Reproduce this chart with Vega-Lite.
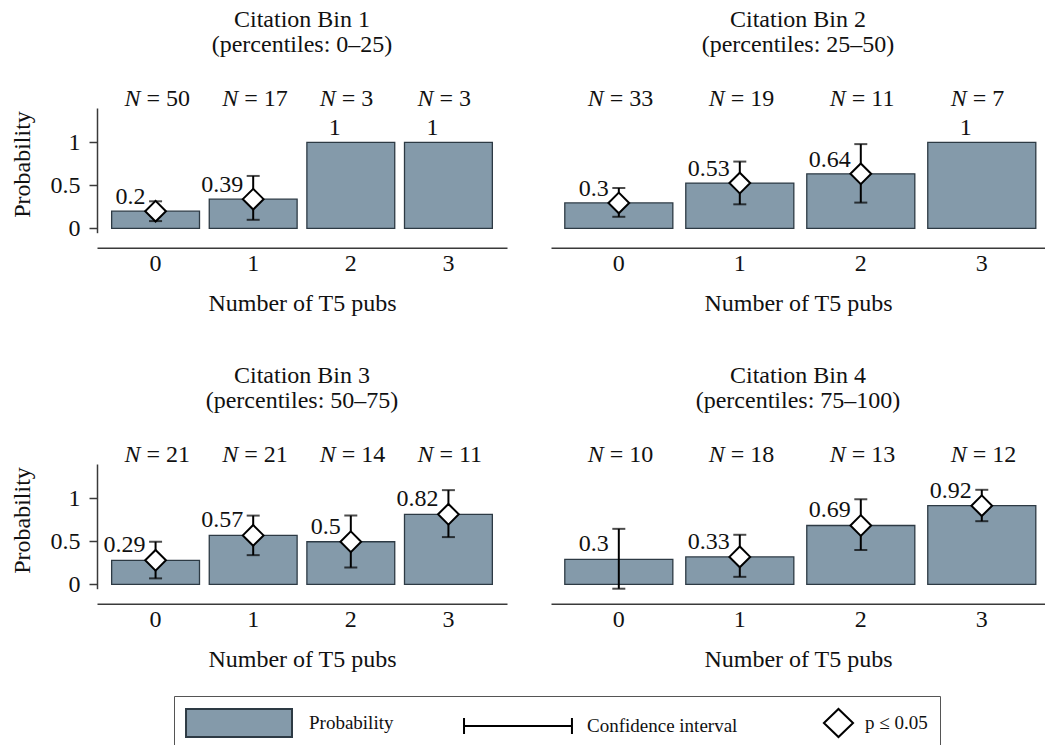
{
  "$schema": "https://vega.github.io/schema/vega-lite/v6.json",
  "padding": {"left": 10, "top": 8, "right": 0, "bottom": 0},
  "background": "white",
  "config": {
    "font": "'Liberation Serif', 'Times New Roman', serif",
    "view": {"stroke": null},
    "title": {"font": "'Liberation Serif', 'Times New Roman', serif", "fontSize": 24, "fontWeight": "normal", "color": "#111", "anchor": "middle", "frame": "group", "lineHeight": 25, "offset": 30},
    "text": {"font": "'Liberation Serif', 'Times New Roman', serif"},
    "axis": {"labelFont": "'Liberation Serif', 'Times New Roman', serif", "titleFont": "'Liberation Serif', 'Times New Roman', serif", "labelFontSize": 24, "titleFontSize": 24, "titleFontWeight": "normal", "labelColor": "#111", "titleColor": "#111", "grid": false, "domainColor": "#3a3a3a", "domainWidth": 1.5, "tickColor": "#3a3a3a", "tickWidth": 1.5},
    "legend": {"orient": "none", "legendX": 77, "legendY": 588, "direction": "horizontal", "columns": 3, "gridAlign": "all", "labelFont": "'Liberation Serif', 'Times New Roman', serif", "labelFontSize": 19, "labelColor": "#111", "symbolSize": 784, "symbolStrokeColor": "black", "symbolStrokeWidth": 2, "symbolOpacity": 1, "labelOffset": 93, "columnPadding": 0, "padding": 12, "strokeColor": "#555", "labelLimit": 300}
  },
  "datasets": {
    "d": [
      {"bin": 1, "pubs": 0, "nlab": "= 50", "prob": 0.2, "lo": 0.085, "hi": 0.315, "sig": true, "label": "0.2"},
      {"bin": 1, "pubs": 1, "nlab": "= 17", "prob": 0.34, "lo": 0.1, "hi": 0.61, "sig": true, "label": "0.39"},
      {"bin": 1, "pubs": 2, "nlab": "= 3", "prob": 1.0, "lo": null, "hi": null, "sig": false, "label": "1"},
      {"bin": 1, "pubs": 3, "nlab": "= 3", "prob": 1.0, "lo": null, "hi": null, "sig": false, "label": "1"},
      {"bin": 2, "pubs": 0, "nlab": "= 33", "prob": 0.296, "lo": 0.135, "hi": 0.47, "sig": true, "label": "0.3"},
      {"bin": 2, "pubs": 1, "nlab": "= 19", "prob": 0.527, "lo": 0.28, "hi": 0.777, "sig": true, "label": "0.53"},
      {"bin": 2, "pubs": 2, "nlab": "= 11", "prob": 0.635, "lo": 0.3, "hi": 0.98, "sig": true, "label": "0.64"},
      {"bin": 2, "pubs": 3, "nlab": "= 7", "prob": 1.0, "lo": null, "hi": null, "sig": false, "label": "1"},
      {"bin": 3, "pubs": 0, "nlab": "= 21", "prob": 0.28, "lo": 0.07, "hi": 0.496, "sig": true, "label": "0.29"},
      {"bin": 3, "pubs": 1, "nlab": "= 21", "prob": 0.57, "lo": 0.34, "hi": 0.8, "sig": true, "label": "0.57"},
      {"bin": 3, "pubs": 2, "nlab": "= 14", "prob": 0.496, "lo": 0.196, "hi": 0.8, "sig": true, "label": "0.5"},
      {"bin": 3, "pubs": 3, "nlab": "= 11", "prob": 0.815, "lo": 0.55, "hi": 1.096, "sig": true, "label": "0.82"},
      {"bin": 4, "pubs": 0, "nlab": "= 10", "prob": 0.29, "lo": -0.05, "hi": 0.646, "sig": false, "label": "0.3"},
      {"bin": 4, "pubs": 1, "nlab": "= 18", "prob": 0.32, "lo": 0.088, "hi": 0.577, "sig": true, "label": "0.33"},
      {"bin": 4, "pubs": 2, "nlab": "= 13", "prob": 0.685, "lo": 0.4, "hi": 0.99, "sig": true, "label": "0.69"},
      {"bin": 4, "pubs": 3, "nlab": "= 12", "prob": 0.915, "lo": 0.735, "hi": 1.1, "sig": true, "label": "0.92"}
    ]
  },
  "spacing": 48,
  "vconcat": [
    {
      "spacing": 44,
      "hconcat": [
        {
          "width": 410, "height": 124.7,
          "title": {"text": ["Citation Bin 1", "(percentiles: 0–25)"]},
          "data": {"name": "d"},
          "transform": [{"filter": "datum.bin == 1"}],
          "encoding": {"x": {"field": "pubs", "type": "ordinal", "scale": {"paddingInner": 0.1, "paddingOuter": 0.15}, "axis": {"title": "Number of T5 pubs", "labelAngle": 0, "ticks": false, "tickSize": 0, "offset": 15, "labelPadding": 4, "titlePadding": 16}}},
          "layer": [
            {"mark": {"type": "bar", "fill": "#849aaa", "stroke": "#2d3a44", "strokeWidth": 1.3}, "encoding": {"y": {"field": "prob", "type": "quantitative", "scale": {"domain": [-0.05, 1.4], "nice": false, "zero": false}, "axis": {"title": "Probability", "values": [0, 0.5, 1], "format": "~g", "tickSize": 8, "labelPadding": 9, "titlePadding": 16, "titleY": 56, "offset": 0}}}},
            {"transform": [{"filter": "datum.lo != null"}], "mark": {"type": "rule", "color": "black", "strokeWidth": 2}, "encoding": {"y": {"field": "lo", "type": "quantitative"}, "y2": {"field": "hi"}}},
            {"transform": [{"filter": "datum.lo != null"}], "mark": {"type": "tick", "color": "black", "size": 13, "thickness": 2}, "encoding": {"y": {"field": "lo", "type": "quantitative"}}},
            {"transform": [{"filter": "datum.lo != null"}], "mark": {"type": "tick", "color": "black", "size": 13, "thickness": 2}, "encoding": {"y": {"field": "hi", "type": "quantitative"}}},
            {"transform": [{"filter": "datum.sig"}], "mark": {"type": "point", "shape": "diamond", "size": 430, "filled": true, "fill": "white", "stroke": "black", "strokeWidth": 2, "opacity": 1}, "encoding": {"y": {"field": "prob", "type": "quantitative"}}},
            {"mark": {"type": "text", "font": "'Liberation Serif', 'Times New Roman', serif", "align": "right", "baseline": "middle", "dx": -10, "dy": -14, "fontSize": 24, "color": "#111"}, "encoding": {"y": {"field": "prob", "type": "quantitative"}, "text": {"field": "label"}}},
            {"mark": {"type": "text", "font": "'Liberation Serif', 'Times New Roman', serif", "text": "N", "fontStyle": "italic", "align": "right", "baseline": "middle", "dx": -15, "fontSize": 24, "color": "#111"}, "encoding": {"y": {"datum": 1.5}}},
            {"mark": {"type": "text", "font": "'Liberation Serif', 'Times New Roman', serif", "align": "left", "baseline": "middle", "dx": -9, "fontSize": 24, "color": "#111"}, "encoding": {"y": {"datum": 1.5}, "text": {"field": "nlab"}}}
          ]
        },
        {
          "width": 494, "height": 124.7,
          "title": {"text": ["Citation Bin 2", "(percentiles: 25–50)"]},
          "data": {"name": "d"},
          "transform": [{"filter": "datum.bin == 2"}],
          "encoding": {"x": {"field": "pubs", "type": "ordinal", "scale": {"paddingInner": 0.107, "paddingOuter": 0.095, "align": 0.6}, "axis": {"title": "Number of T5 pubs", "labelAngle": 0, "ticks": false, "tickSize": 0, "offset": 15, "labelPadding": 4, "titlePadding": 16}}},
          "layer": [
            {"mark": {"type": "bar", "fill": "#849aaa", "stroke": "#2d3a44", "strokeWidth": 1.3}, "encoding": {"y": {"field": "prob", "type": "quantitative", "scale": {"domain": [-0.05, 1.4], "nice": false, "zero": false}, "axis": null}}},
            {"transform": [{"filter": "datum.lo != null"}], "mark": {"type": "rule", "color": "black", "strokeWidth": 2}, "encoding": {"y": {"field": "lo", "type": "quantitative"}, "y2": {"field": "hi"}}},
            {"transform": [{"filter": "datum.lo != null"}], "mark": {"type": "tick", "color": "black", "size": 13, "thickness": 2}, "encoding": {"y": {"field": "lo", "type": "quantitative"}}},
            {"transform": [{"filter": "datum.lo != null"}], "mark": {"type": "tick", "color": "black", "size": 13, "thickness": 2}, "encoding": {"y": {"field": "hi", "type": "quantitative"}}},
            {"transform": [{"filter": "datum.sig"}], "mark": {"type": "point", "shape": "diamond", "size": 430, "filled": true, "fill": "white", "stroke": "black", "strokeWidth": 2, "opacity": 1}, "encoding": {"y": {"field": "prob", "type": "quantitative"}}},
            {"mark": {"type": "text", "font": "'Liberation Serif', 'Times New Roman', serif", "align": "right", "baseline": "middle", "dx": -10, "dy": -14, "fontSize": 24, "color": "#111"}, "encoding": {"y": {"field": "prob", "type": "quantitative"}, "text": {"field": "label"}}},
            {"mark": {"type": "text", "font": "'Liberation Serif', 'Times New Roman', serif", "text": "N", "fontStyle": "italic", "align": "right", "baseline": "middle", "dx": -15, "fontSize": 24, "color": "#111"}, "encoding": {"y": {"datum": 1.5}}},
            {"mark": {"type": "text", "font": "'Liberation Serif', 'Times New Roman', serif", "align": "left", "baseline": "middle", "dx": -9, "fontSize": 24, "color": "#111"}, "encoding": {"y": {"datum": 1.5}, "text": {"field": "nlab"}}}
          ]
        }
      ]
    },
    {
      "spacing": 44,
      "hconcat": [
        {
          "width": 410, "height": 124.7,
          "title": {"text": ["Citation Bin 3", "(percentiles: 50–75)"]},
          "data": {"name": "d"},
          "transform": [{"filter": "datum.bin == 3"}],
          "encoding": {"x": {"field": "pubs", "type": "ordinal", "scale": {"paddingInner": 0.1, "paddingOuter": 0.15}, "axis": {"title": "Number of T5 pubs", "labelAngle": 0, "ticks": false, "tickSize": 0, "offset": 15, "labelPadding": 4, "titlePadding": 16}}},
          "layer": [
            {"mark": {"type": "bar", "fill": "#849aaa", "stroke": "#2d3a44", "strokeWidth": 1.3}, "encoding": {"y": {"field": "prob", "type": "quantitative", "scale": {"domain": [-0.05, 1.4], "nice": false, "zero": false}, "axis": {"title": "Probability", "values": [0, 0.5, 1], "format": "~g", "tickSize": 8, "labelPadding": 9, "titlePadding": 16, "titleY": 56, "offset": 0}}}},
            {"transform": [{"filter": "datum.lo != null"}], "mark": {"type": "rule", "color": "black", "strokeWidth": 2}, "encoding": {"y": {"field": "lo", "type": "quantitative"}, "y2": {"field": "hi"}}},
            {"transform": [{"filter": "datum.lo != null"}], "mark": {"type": "tick", "color": "black", "size": 13, "thickness": 2}, "encoding": {"y": {"field": "lo", "type": "quantitative"}}},
            {"transform": [{"filter": "datum.lo != null"}], "mark": {"type": "tick", "color": "black", "size": 13, "thickness": 2}, "encoding": {"y": {"field": "hi", "type": "quantitative"}}},
            {"transform": [{"filter": "datum.sig"}], "mark": {"type": "point", "shape": "diamond", "size": 430, "filled": true, "fill": "white", "stroke": "black", "strokeWidth": 2, "opacity": 1}, "encoding": {"y": {"field": "prob", "type": "quantitative"}}},
            {"mark": {"type": "text", "font": "'Liberation Serif', 'Times New Roman', serif", "align": "right", "baseline": "middle", "dx": -10, "dy": -15, "fontSize": 24, "color": "#111"}, "encoding": {"y": {"field": "prob", "type": "quantitative"}, "text": {"field": "label"}}},
            {"mark": {"type": "text", "font": "'Liberation Serif', 'Times New Roman', serif", "text": "N", "fontStyle": "italic", "align": "right", "baseline": "middle", "dx": -15, "fontSize": 24, "color": "#111"}, "encoding": {"y": {"datum": 1.5}}},
            {"mark": {"type": "text", "font": "'Liberation Serif', 'Times New Roman', serif", "align": "left", "baseline": "middle", "dx": -9, "fontSize": 24, "color": "#111"}, "encoding": {"y": {"datum": 1.5}, "text": {"field": "nlab"}}}
          ]
        },
        {
          "width": 494, "height": 124.7,
          "title": {"text": ["Citation Bin 4", "(percentiles: 75–100)"]},
          "data": {"name": "d"},
          "transform": [{"filter": "datum.bin == 4"}],
          "encoding": {"x": {"field": "pubs", "type": "ordinal", "scale": {"paddingInner": 0.107, "paddingOuter": 0.095, "align": 0.6}, "axis": {"title": "Number of T5 pubs", "labelAngle": 0, "ticks": false, "tickSize": 0, "offset": 15, "labelPadding": 4, "titlePadding": 16}}},
          "layer": [
            {"mark": {"type": "bar", "fill": "#849aaa", "stroke": "#2d3a44", "strokeWidth": 1.3}, "encoding": {"y": {"field": "prob", "type": "quantitative", "scale": {"domain": [-0.05, 1.4], "nice": false, "zero": false}, "axis": null}}},
            {"transform": [{"filter": "datum.lo != null"}], "mark": {"type": "rule", "color": "black", "strokeWidth": 2}, "encoding": {"y": {"field": "lo", "type": "quantitative"}, "y2": {"field": "hi"}}},
            {"transform": [{"filter": "datum.lo != null"}], "mark": {"type": "tick", "color": "black", "size": 13, "thickness": 2}, "encoding": {"y": {"field": "lo", "type": "quantitative"}}},
            {"transform": [{"filter": "datum.lo != null"}], "mark": {"type": "tick", "color": "black", "size": 13, "thickness": 2}, "encoding": {"y": {"field": "hi", "type": "quantitative"}}},
            {"transform": [{"filter": "datum.sig"}], "mark": {"type": "point", "shape": "diamond", "size": 430, "filled": true, "fill": "white", "stroke": "black", "strokeWidth": 2, "opacity": 1}, "encoding": {"y": {"field": "prob", "type": "quantitative"}}},
            {"mark": {"type": "text", "font": "'Liberation Serif', 'Times New Roman', serif", "align": "right", "baseline": "middle", "dx": -10, "dy": -15, "fontSize": 24, "color": "#111"}, "encoding": {"y": {"field": "prob", "type": "quantitative"}, "text": {"field": "label"}}},
            {"mark": {"type": "text", "font": "'Liberation Serif', 'Times New Roman', serif", "text": "N", "fontStyle": "italic", "align": "right", "baseline": "middle", "dx": -15, "fontSize": 24, "color": "#111"}, "encoding": {"y": {"datum": 1.5}}},
            {"mark": {"type": "text", "font": "'Liberation Serif', 'Times New Roman', serif", "align": "left", "baseline": "middle", "dx": -9, "fontSize": 24, "color": "#111"}, "encoding": {"y": {"datum": 1.5}, "text": {"field": "nlab"}}},
            {"data": {"values": []}, "mark": {"type": "point", "filled": true, "opacity": 1, "strokeWidth": 2}, "encoding": {
              "shape": {"field": "kind", "type": "nominal", "legend": {"title": null}, "scale": {"domain": ["Probability", "Confidence interval", "p ≤ 0.05"], "range": ["M-1.07,-1H6.5V1H-1.07Z", "M-1.07,0H6.64M-1.07,-0.57V0.57M6.64,-0.57V0.57", "M4.78,0L5.82,-1L6.86,0L5.82,1Z"]}},
              "fill": {"field": "kind", "type": "nominal", "legend": {"title": null}, "scale": {"domain": ["Probability", "Confidence interval", "p ≤ 0.05"], "range": ["#849aaa", "transparent", "white"]}},
              "stroke": {"field": "kind", "type": "nominal", "legend": {"title": null}, "scale": {"domain": ["Probability", "Confidence interval", "p ≤ 0.05"], "range": ["#2d3a44", "black", "black"]}}
            }}
          ]
        }
      ]
    }
  ]
}
